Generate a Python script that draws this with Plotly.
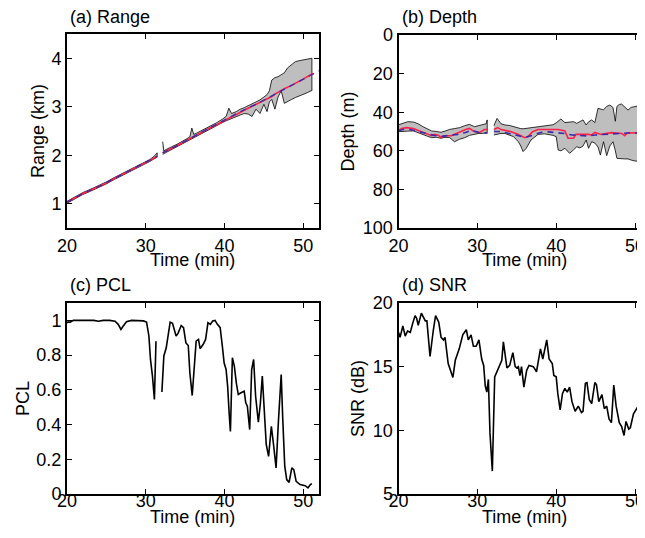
import plotly.graph_objects as go

# ---------------- data ----------------
# (a) Range (km): gray uncertainty band, estimate (red), truth (blue dashed)
range_t1 = [20, 21, 22, 23, 24, 25, 26, 27, 28, 29, 30, 30.5, 31, 31.3, 31.45]
range_est1 = [1.03, 1.12, 1.21, 1.28, 1.35, 1.43, 1.52, 1.60, 1.68, 1.76, 1.85, 1.89, 1.94, 1.96, 1.98]
range_up1 = [1.05, 1.14, 1.23, 1.30, 1.37, 1.45, 1.54, 1.62, 1.70, 1.78, 1.87, 1.91, 1.97, 2.02, 2.05]
range_lo1 = [1.01, 1.10, 1.19, 1.26, 1.33, 1.41, 1.50, 1.58, 1.66, 1.74, 1.83, 1.87, 1.92, 1.94, 1.96]

range_t2 = [32.15, 32.3, 32.6, 33, 34, 35, 35.6, 35.85, 36.1, 36.5, 37, 38, 39, 39.7, 40.2,
            40.55, 40.9, 41.5, 42, 42.5, 43, 43.5, 44, 44.5, 45, 45.4, 45.7, 46.0, 46.4, 46.8,
            47.2, 47.6, 48, 48.5, 49, 49.5, 50, 50.5, 51, 51.1]
range_est2 = [2.05, 2.06, 2.09, 2.12, 2.20, 2.29, 2.34, 2.36, 2.39, 2.42, 2.46, 2.55, 2.63, 2.69, 2.74,
              2.77, 2.80, 2.85, 2.90, 2.93, 2.97, 3.01, 3.05, 3.09, 3.13, 3.17, 3.19, 3.21, 3.26, 3.30,
              3.33, 3.37, 3.40, 3.44, 3.49, 3.53, 3.57, 3.62, 3.66, 3.67]
range_up2 = [2.28, 2.09, 2.12, 2.15, 2.23, 2.32, 2.38, 2.56, 2.43, 2.46, 2.50, 2.59, 2.67, 2.74, 2.80,
             2.97, 2.86, 2.90, 2.95, 2.98, 3.02, 3.06, 3.10, 3.14, 3.20, 3.25, 3.33, 3.55, 3.60, 3.62,
             3.66, 3.70, 3.80, 3.87, 3.93, 3.95, 3.97, 3.99, 4.00, 4.00]
range_lo2 = [2.02, 2.04, 2.07, 2.10, 2.18, 2.27, 2.32, 2.34, 2.37, 2.40, 2.44, 2.53, 2.61, 2.67, 2.71,
             2.74, 2.76, 2.80, 2.83, 2.86, 2.85, 2.80, 2.95, 2.86, 3.05, 2.90, 3.10, 3.15, 2.95, 3.20,
             3.33, 3.07, 3.10, 3.15, 3.19, 3.22, 3.26, 3.29, 3.33, 3.33]
range_true_t = [20, 22, 24, 26, 28, 30, 31.45, None, 32.15, 34, 36, 38, 40, 42, 44, 46, 48, 50, 52]
range_true = [1.03, 1.21, 1.35, 1.52, 1.68, 1.85, 1.98, None, 2.05, 2.20, 2.38, 2.55, 2.72, 2.90, 3.05, 3.22, 3.40, 3.57, 3.74]

# (b) Depth (m)
depth_t1 = [20.0, 20.5, 21.2, 21.9, 22.5, 23.1, 23.7, 24.2, 24.8, 25.4, 25.9, 26.5, 27.1, 27.75,
            28.4, 29.0, 29.65, 30.2, 30.7, 31.1, 31.25]
depth_up1 = [46.5, 45.8, 44.9, 45.1, 46.0, 47.5, 48.5, 49.7, 50.0, 50.4, 49.8, 48.9, 48.5, 48.0,
             47.0, 46.3, 47.5, 47.0, 46.6, 46.0, 44.0]
depth_lo1 = [50.1, 50.0, 49.8, 49.7, 50.5, 51.5, 52.5, 53.2, 53.0, 53.5, 53.0, 53.2, 55.3, 54.0,
             53.2, 52.0, 51.5, 51.0, 51.0, 50.5, 50.5]
depth_t2 = [32.1, 32.5, 33.0, 33.5, 34.1, 34.6, 35.2, 35.5, 35.8, 36.2, 36.8, 37.7, 38.5, 39.0,
            39.6, 40.0, 40.25, 40.6, 41.1, 41.7, 42.2, 42.6, 43.0, 43.4, 43.8, 44.1, 44.5, 44.9,
            45.3, 45.6, 46.0, 46.4, 46.8, 47.2, 47.5, 47.7, 48.0, 48.3, 48.7, 49.1, 49.5, 50.0,
            50.4, 50.85, 51.3]
depth_up2 = [47.0, 43.2, 46.0, 46.6, 46.9, 47.5, 48.4, 48.5, 48.6, 48.4, 48.0, 47.5, 47.0, 46.9,
             46.5, 45.5, 44.6, 43.5, 45.4, 45.0, 44.9, 45.8, 45.0, 44.0, 46.6, 45.0, 44.0, 45.4,
             38.0, 38.5, 38.8, 37.0, 36.3, 37.5, 44.7, 37.0, 36.0, 35.8, 37.5, 38.9, 37.5, 37.2,
             36.8, 36.3, 35.8]
depth_lo2 = [51.8, 51.3, 51.0, 51.0, 52.0, 52.7, 55.3, 57.5, 60.4, 58.7, 54.4, 51.5, 51.2, 51.5,
             52.0, 52.7, 59.6, 60.0, 58.7, 61.3, 59.5, 57.9, 58.5, 57.5, 54.4, 58.7, 55.3, 56.0,
             58.0, 62.2, 55.3, 62.5, 57.5, 55.3, 60.0, 63.9, 64.0, 64.0, 64.2, 64.2, 64.8, 65.3,
             65.5, 65.6, 65.0]
depth_est_t = [20.0, 20.4, 21.0, 21.9, 22.9, 23.7, 24.2, 24.6, 25.1, 25.4, 25.8, 26.7, 27.3, 28.0,
               28.5, 29.0, 29.65, 30.3, 30.9, 31.3, None,
               32.1, 32.6, 33.0, 34.3, 35.2, 35.8, 36.0, 36.4, 37.0, 37.7, 40.25, 41.1, 41.4, 41.5,
               42.2, 42.5, 44.1, 44.5, 44.9, 45.7, 47.0, 48.3, 48.7, 49.0, 51.3, 52.0]
depth_est = [49.5, 48.4, 48.0, 48.4, 50.1, 51.5, 52.2, 51.5, 52.0, 53.2, 52.2, 52.2, 51.0, 49.7,
             49.0, 48.4, 50.1, 50.5, 49.0, 49.0, None,
             49.0, 48.0, 49.0, 50.1, 51.5, 52.8, 53.2, 52.8, 50.1, 49.0, 49.0, 49.7, 52.5, 53.5,
             53.5, 51.5, 51.5, 51.8, 50.5, 51.5, 50.6, 51.0, 52.2, 50.8, 50.6, 50.6]
depth_true_t = [20.0, 20.5, 21.5, 22.5, 23.5, 24.5, 25.5, 26.5, 27.5, 28.5, 29.2, 29.8, 30.5, 31.3, None,
                32.1, 33.0, 34.0, 35.0, 36.0, 37.0, 38.0, 39.0, 40.0, 41.0, 42.0, 43.0, 44.0, 45.0,
                46.0, 47.0, 48.0, 49.0, 50.0, 51.0, 52.0]
depth_true = [49.8, 49.0, 49.0, 50.0, 51.0, 52.0, 52.5, 52.0, 51.5, 50.5, 49.5, 50.0, 51.0, 50.8, None,
              50.0, 50.0, 51.0, 52.0, 53.0, 52.0, 50.5, 50.2, 50.5, 51.0, 51.8, 52.0, 52.3, 51.8,
              51.5, 51.0, 50.8, 50.8, 50.8, 50.8, 50.8]

# (c) PCL
pcl_t = [20.0, 20.1, 20.4, 20.8, 21.7, 22.5, 23.4, 24.0, 24.6, 25.4, 26.1, 26.5, 26.85, 27.1,
         27.55, 28.2, 28.8, 29.7, 30.1, 30.4, 30.6, 30.85, 31.1, 31.3, None,
         32.05, 32.3, 32.6, 32.9, 33.1, 33.4, 33.85, 34.1, 34.5, 34.8, 35.1, 35.4, 35.6, 35.9,
         36.15, 36.4, 36.7, 36.9, 37.3, 37.6, 37.9, 38.2, 38.5, 38.8, 39.1, 39.45, 39.75, 39.95,
         40.2, 40.4, 40.6, 40.75, 41.0, 41.25, 41.5, 41.75, 42.1, 42.5, 42.7, 42.9, 43.2, 43.45,
         43.7, 43.95, 44.3, 44.55, 44.8, 45.05, 45.3, 45.6, 45.95, 46.25, 46.55, 46.85, 47.2,
         47.4, 47.65, 47.9, 48.2, 48.55, 48.8, 49.1, 49.6, 50.25, 50.6, 50.9, 51.1]
pcl = [0.985, 0.99, 0.99, 1.0, 1.0, 1.0, 1.0, 0.995, 1.0, 1.0, 0.995, 0.977, 0.948, 0.965,
       0.992, 1.0, 1.0, 0.997, 0.99, 0.91, 0.775, 0.68, 0.545, 0.88, None,
       0.587, 0.795, 0.842, 0.92, 0.99, 0.983, 0.91, 0.925, 0.97, 0.958, 0.87, 0.855, 0.698, 0.567,
       0.737, 0.88, 0.89, 0.837, 0.862, 0.89, 0.987, 0.977, 0.996, 1.0, 0.977, 0.958, 0.842, 0.756,
       0.717, 0.62, 0.458, 0.36, 0.785, 0.737, 0.64, 0.573, 0.583, 0.592, 0.525, 0.506, 0.371, 0.717,
       0.775, 0.563, 0.413, 0.52, 0.679, 0.487, 0.285, 0.217, 0.39, 0.275, 0.15, 0.42, 0.688,
       0.43, 0.16, 0.083, 0.067, 0.15, 0.14, 0.073, 0.054, 0.048, 0.035, 0.054, 0.06]

# (d) SNR (dB)
snr_t = [20.0, 20.2, 20.55, 20.85, 21.15, 21.5, 21.8, 22.1, 22.3, 22.5, 22.9, 23.4, 23.6, 24.0,
         24.4, 24.7, 25.1, 25.4, 25.7, 25.9, 26.3, 26.9, 27.2, 27.7, 28.15, 28.6, 28.85, 29.2,
         29.5, 29.85, 30.2, 30.55, 30.8, 31.0, 31.2, 31.4, 31.6, 31.9, 32.2, 32.7, 33.1, 33.3,
         33.5, 33.75, 34.1, 34.5, 34.8, 35.0, 35.2, 35.4, 35.6, 35.9, 36.25, 36.55, 37.1, 37.5,
         38.0, 38.3, 38.8, 39.1, 39.5, 39.7, 40.0, 40.2, 40.5, 40.8, 41.1, 41.4, 41.7, 42.0,
         42.4, 42.8, 43.2, 43.4, 43.7, 43.9, 44.2, 44.5, 44.9, 45.1, 45.4, 45.8, 46.1, 46.4,
         46.7, 47.0, 47.3, 47.6, 48.0, 48.3, 48.6, 48.85, 49.2, 49.4, 49.8, 50.1, 50.5, 50.8,
         51.0, 51.26]
snr = [17.7, 17.3, 18.2, 17.4, 17.8, 17.7, 18.4, 19.0, 18.8, 18.25, 19.2, 18.6, 18.6, 15.8,
       17.8, 19.0, 18.5, 17.3, 17.1, 17.3, 15.25, 14.15, 15.5, 16.4, 17.5, 17.9, 17.1, 17.5,
       16.6, 16.6, 17.1, 15.6, 15.1, 13.5, 13.0, 14.0, 9.8, 6.8, 14.2, 14.9, 15.5, 16.95,
       16.0, 14.9, 15.1, 16.1, 15.0, 14.9, 15.0, 14.3, 15.0, 13.4, 14.7, 15.1, 15.0, 14.6,
       16.4, 15.6, 17.1, 15.6, 15.25, 14.3, 14.2, 12.9, 11.6, 12.9, 13.3, 13.0, 13.4, 12.25,
       11.5, 11.9, 11.4, 11.5, 13.7, 13.75, 12.4, 12.1, 13.75, 13.6, 12.25, 12.8, 11.7, 11.9,
       10.9, 10.6, 13.55, 11.9, 10.6, 10.3, 9.6, 10.7, 10.1, 10.2, 11.3, 11.6, 12.0, 11.5,
       11.3, 10.8]

time_label = "Time (min)"

# ---------------- figure ----------------
OFF = 8                      # page body margin of the browser
W, H = 645 - OFF, 538 - OFF
FONT = "Liberation Sans, Arial, Helvetica, sans-serif"
GRAY = "#bebebe"
RED = "#ff1f4b"
BLUE = "#3a2aa6"


def px_x(a, b):
    return [(a - OFF) / W, min(1.0, (b - OFF) / W)]


def px_y(top, bot):
    return [1 - (bot - OFF) / H, 1 - (top - OFF) / H]


fig = go.Figure()


def band(t, up, lo, xa, ya):
    fig.add_trace(go.Scatter(x=t + t[::-1], y=up + lo[::-1], mode="lines", fill="toself",
                             fillcolor=GRAY, line=dict(color="black", width=0.8),
                             xaxis=xa, yaxis=ya, showlegend=False, hoverinfo="skip"))


# (a)
band(range_t1, range_up1, range_lo1, "x", "y")
band(range_t2, range_up2, range_lo2, "x", "y")
fig.add_trace(go.Scatter(x=range_t1 + [None] + range_t2 + [51.3], y=range_est1 + [None] + range_est2 + [3.69],
                         mode="lines", line=dict(color=RED, width=1.6), xaxis="x", yaxis="y", showlegend=False))
fig.add_trace(go.Scatter(x=range_true_t, y=range_true, mode="lines",
                         line=dict(color=BLUE, width=1.3, dash="6px,5px"), xaxis="x", yaxis="y", showlegend=False))

# (b)
band(depth_t1, depth_up1, depth_lo1, "x2", "y2")
band(depth_t2, depth_up2, depth_lo2, "x2", "y2")
fig.add_trace(go.Scatter(x=depth_est_t, y=depth_est, mode="lines", line=dict(color=RED, width=1.6),
                         xaxis="x2", yaxis="y2", showlegend=False))
fig.add_trace(go.Scatter(x=depth_true_t, y=depth_true, mode="lines",
                         line=dict(color=BLUE, width=1.6, dash="6px,5px"), xaxis="x2", yaxis="y2", showlegend=False))

# (c)
fig.add_trace(go.Scatter(x=pcl_t, y=pcl, mode="lines", line=dict(color="black", width=1.6),
                         xaxis="x3", yaxis="y3", showlegend=False))
# (d)
fig.add_trace(go.Scatter(x=snr_t, y=snr, mode="lines", line=dict(color="black", width=1.6),
                         xaxis="x4", yaxis="y4", showlegend=False))

common = dict(showgrid=False, zeroline=False, showline=True, linecolor="black", linewidth=2,
              ticks="inside", ticklen=5, tickwidth=1, tickcolor="black", automargin=False,
              ticklabeloverflow="allow",
              tickfont=dict(family=FONT, size=18, color="black"))
xt = dict(tickvals=[20, 30, 40, 50], ticktext=["20", "30", "40", "50"])
ttl = lambda s: dict(text=s, font=dict(family=FONT, size=18, color="black"))

fig.update_layout(
    template="none",
    width=W, height=H, margin=dict(l=0, r=0, t=0, b=0, pad=0),
    paper_bgcolor="white", plot_bgcolor="white",
    xaxis=dict(domain=px_x(67, 319), range=[20, 52], mirror="ticks", anchor="y", **xt, **common),
    yaxis=dict(domain=px_y(34, 228), range=[0.5, 4.5], mirror="ticks", anchor="x",
               tickvals=[1, 2, 3, 4], title=dict(ttl("Range (km)"), standoff=2), **common),
    xaxis2=dict(domain=px_x(398.5, 645), range=[20, 51.26], mirror="ticks", anchor="y2", **xt, **common),
    yaxis2=dict(domain=px_y(35, 228), range=[100, 0], mirror=False, anchor="x2",
                tickvals=[0, 20, 40, 60, 80, 100], title=dict(ttl("Depth (m)"), standoff=4), **common),
    xaxis3=dict(domain=px_x(67, 319), range=[20, 52], mirror="ticks", anchor="y3",
                ticklabelstandoff=-11, **xt, **common),
    yaxis3=dict(domain=px_y(303, 494), range=[0, 1.1], mirror="ticks", anchor="x3",
                tickvals=[0, 0.2, 0.4, 0.6, 0.8, 1], ticktext=["0", "0.2", "0.4", "0.6", "0.8", "1"],
                title=dict(ttl("PCL"), standoff=2), **common),
    xaxis4=dict(domain=px_x(398.5, 645), range=[20, 51.26], mirror="ticks", anchor="y4",
                ticklabelstandoff=-11, **xt, **common),
    yaxis4=dict(domain=px_y(303, 494), range=[5, 20], mirror=False, anchor="x4",
                tickvals=[5, 10, 15, 20], title=dict(ttl("SNR (dB)"), standoff=4), **common),
)

labels = [("(a) Range", 68, 17, "left"), ("(b) Depth", 400, 17, "left"),
          ("(c) PCL", 68, 285, "left"), ("(d) SNR", 400, 285, "left"),
          (time_label, 192, 260, "center"), (time_label, 524, 260, "center"),
          (time_label, 192, 517, "center"), (time_label, 524, 517, "center")]
for txt, x, y, anc in labels:
    fig.add_annotation(text=txt, xref="paper", yref="paper", x=(x - OFF) / W, y=1 - (y - OFF) / H,
                       xanchor=anc, yanchor="middle", showarrow=False,
                       font=dict(family=FONT, size=18, color="black"))

fig.write_html("out.html")
